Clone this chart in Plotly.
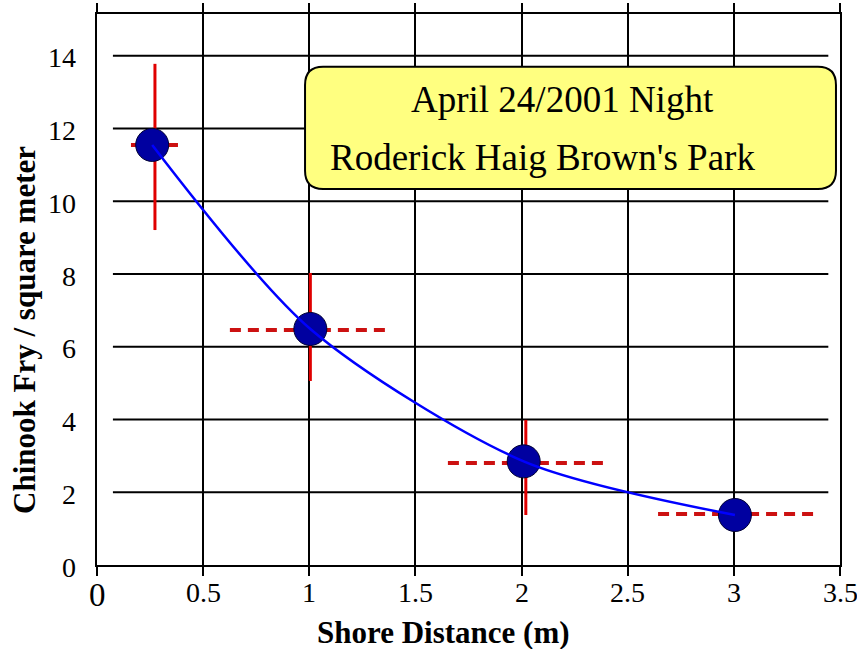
import plotly.graph_objects as go

# ---- data ----
dist = [0.26, 1.005, 2.01, 3.005]
density = [11.55, 6.49, 2.85, 1.375]

# vertical (density) error bars
verr_x = [0.273, 1.005, 2.02]
verr_low = [9.21, 5.06, 1.375]
verr_high = [13.78, 8.03, 3.99]

# horizontal (distance) error bars
herr_y = [11.55, 6.46, 2.805, 1.40]
herr_low = [0.16, 0.626, 1.653, 2.643]
herr_high = [0.386, 1.375, 2.407, 3.396]

x_ticks = [0, 0.5, 1, 1.5, 2, 2.5, 3, 3.5]
x_ticktext = ["0", "0.5", "1", "1.5", "2", "2.5", "3", "3.5"]
y_ticks = [0, 2, 4, 6, 8, 10, 12, 14]
y_ticktext = ["0", "2", "4", "6", "8", "10", "12", "14"]

title_lines = ["April 24/2001 Night", "Roderick Haig Brown's Park"]
x_title = "Shore Distance (m)"
y_title = "Chinook Fry / square meter"

SERIF = "Liberation Serif"

fig = go.Figure()

# horizontal dashed error bars
hx, hy = [], []
for lo, hi, yy in zip(herr_low, herr_high, herr_y):
    hx += [lo, hi, None]
    hy += [yy, yy, None]
fig.add_trace(go.Scatter(x=hx, y=hy, mode="lines",
                         line=dict(color="#CC1111", width=4, dash="11px,7px"),
                         hoverinfo="skip", showlegend=False))

# vertical error bars
vx, vy = [], []
for xx, lo, hi in zip(verr_x, verr_low, verr_high):
    vx += [xx, xx, None]
    vy += [lo, hi, None]
fig.add_trace(go.Scatter(x=vx, y=vy, mode="lines",
                         line=dict(color="#E00000", width=3),
                         hoverinfo="skip", showlegend=False))

# markers
fig.add_trace(go.Scatter(x=dist, y=density, mode="markers",
                         marker=dict(size=33, color="#0000A0",
                                     line=dict(color="#000033", width=1)),
                         showlegend=False))

# smooth curve
fig.add_trace(go.Scatter(x=dist, y=density, mode="lines",
                         line=dict(color="#0000FF", width=2.5, shape="spline", smoothing=0.8),
                         showlegend=False))

shapes = []
# horizontal gridlines (inset from the axes as in the reference)
for yv in y_ticks[1:]:
    shapes.append(dict(type="line", xref="x", yref="y", x0=0.075, x1=3.445, y0=yv, y1=yv,
                       line=dict(color="black", width=2), layer="between"))

# rounded yellow box
bx0, bx1, by0, by1 = 0.98, 3.481, 10.34, 13.70
rx, ry = 0.085, 0.5
path = (f"M {bx0+rx},{by1} L {bx1-rx},{by1} Q {bx1},{by1} {bx1},{by1-ry} "
        f"L {bx1},{by0+ry} Q {bx1},{by0} {bx1-rx},{by0} "
        f"L {bx0+rx},{by0} Q {bx0},{by0} {bx0},{by0+ry} "
        f"L {bx0},{by1-ry} Q {bx0},{by1} {bx0+rx},{by1} Z")
shapes.append(dict(type="path", xref="x", yref="y", path=path,
                   fillcolor="#FFFF80", line=dict(color="black", width=2), layer="between"))

annotations = [
    dict(x=2.195, y=12.79, xref="x", yref="y", text=title_lines[0], showarrow=False,
         font=dict(family=SERIF, size=37, color="black"), xanchor="center", yanchor="middle"),
    dict(x=2.10, y=11.21, xref="x", yref="y", text=title_lines[1], showarrow=False,
         font=dict(family=SERIF, size=37, color="black"), xanchor="center", yanchor="middle"),
    dict(x=0.4657, y=-0.1216, xref="paper", yref="paper", text="<b>" + x_title + "</b>",
         showarrow=False, font=dict(family=SERIF, size=31, color="black"),
         xanchor="center", yanchor="middle"),
    dict(x=-0.097, y=0.4265, xref="paper", yref="paper", text="<b>" + y_title + "</b>",
         showarrow=False, textangle=-90, font=dict(family=SERIF, size=31, color="black"),
         xanchor="center", yanchor="middle"),
]

# tick labels (serif, as in the reference)
for tv, tt in zip(x_ticks, x_ticktext):
    big = (tv == 0)
    annotations.append(dict(x=tv, y=0, xref="x", yref="y", text=tt, showarrow=False,
                            yshift=-30 if big else -27,
                            font=dict(family=SERIF, size=33 if big else 28, color="black"),
                            xanchor="center", yanchor="middle"))
for tv, tt in zip(y_ticks, y_ticktext):
    annotations.append(dict(x=0, y=tv, xref="x", yref="y", text=tt, showarrow=False,
                            xshift=-19, yshift=-2,
                            font=dict(family=SERIF, size=28, color="black"),
                            xanchor="right", yanchor="middle"))

fig.update_layout(
    width=857, height=649,
    margin=dict(l=97, r=17, t=14, b=84, autoexpand=False),
    paper_bgcolor="white", plot_bgcolor="white",
    font=dict(family=SERIF, size=28, color="black"),
    shapes=shapes, annotations=annotations,
    xaxis=dict(range=[0, 3.5], tickmode="array", tickvals=x_ticks, showticklabels=False,
               showgrid=True, gridcolor="black", gridwidth=2,
               showline=True, linecolor="black", linewidth=2, mirror="ticks",
               ticks="outside", ticklen=9, tickwidth=2, tickcolor="black",
               zeroline=False, fixedrange=True, automargin=False),
    yaxis=dict(range=[0, 15.15], tickmode="array", tickvals=y_ticks, showticklabels=False,
               showgrid=False, showline=True, linecolor="black", linewidth=2, mirror=True,
               ticks="", zeroline=False, fixedrange=True, automargin=False),
)

fig.write_html("out.html")
